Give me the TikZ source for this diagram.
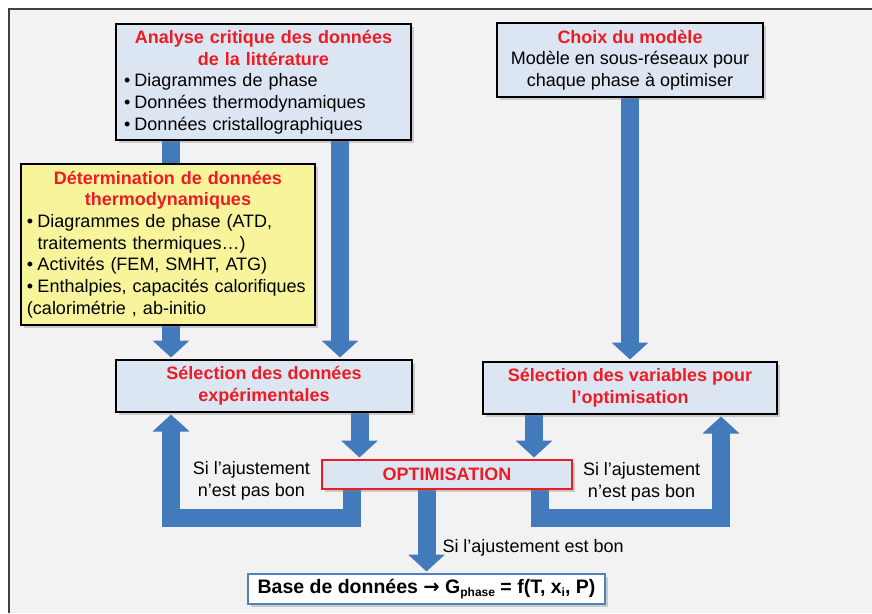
\documentclass[tikz,border=0pt]{standalone}
\usepackage{fontspec}
\setmainfont{Liberation Sans}
\newfontfamily\symbole{DejaVu Sans}
\usepackage{xcolor}
\usetikzlibrary{arrows.meta, positioning, shadows}

\definecolor{fond}{HTML}{F2F2F2}
\definecolor{bleuclair}{HTML}{DCE6F2}
\definecolor{jaune}{HTML}{F8F49C}
\definecolor{rouge}{HTML}{ED1C24}
\definecolor{bleufleche}{HTML}{427ABB}
\definecolor{bleubord}{HTML}{4F81BD}

\newcommand{\titre}[1]{{\centering\bfseries\color{rouge}#1\par}}
\newcommand{\puce}{\par\noindent\hangindent=10.5pt\hangafter=1\makebox[10.5pt][l]{•}}
\newcommand{\indice}[1]{\raisebox{-0.35ex}{\fontsize{12}{12}\selectfont #1}}

\pgfdeclarelayer{cadre}
\pgfdeclarelayer{fleches}
\pgfsetlayers{cadre,fleches,main}

\begin{document}
\begin{tikzpicture}[
            x=1pt, y=-1pt,
            boite/.style={
                draw=black, line width=2pt, fill=bleuclair, align=center,
                font=\fontsize{18}{21.7}\selectfont, inner xsep=8pt, inner ysep=3pt,
                drop shadow={shadow xshift=2.5pt, shadow yshift=-2.5pt, opacity=0.35}
            },
            boite_titre/.style={boite, font=\fontsize{18}{21.7}\selectfont\bfseries, text=rouge},
            fleche/.style={
                draw=bleufleche, line width=18pt,
                -{Triangle[width=36pt, length=17pt]}, shorten >=1.5pt
            },
            etiquette/.style={font=\fontsize{18}{21.7}\selectfont, align=center, inner sep=2pt, outer sep=0pt}
        ]
            \useasboundingbox (0,0) rectangle (872,613);

            % Cadre de la figure
            \begin{pgfonlayer}{cadre}
                \fill[fond] (9,9) rectangle (872,613);
                \draw[line width=2.5pt, black!75] (9,613) -- (9,9) -- (872,9);
            \end{pgfonlayer}

            % --- Sources de données ---
            \node[boite, minimum width=295pt, minimum height=116pt, text width=279pt, align=left] (analyse) at (263.5,82)
                {\titre{Analyse critique des données\\ de la littérature}%
                 \puce Diagrammes de phase
                 \puce Données thermodynamiques
                 \puce Données cristallographiques};

            \node[boite, minimum width=266pt, minimum height=74pt] (choix) at (630,60)
                {{\bfseries\color{rouge}Choix du modèle}\\ Modèle en sous-réseaux pour\\ chaque phase à optimiser};

            \node[boite, fill=jaune, minimum width=294pt, minimum height=161pt, text width=282pt, inner xsep=6pt, align=left] (determ) at (168,244.5)
                {\titre{Détermination de données\\ thermodynamiques}%
                 \puce Diagrammes de phase (ATD,\newline traitements thermiques…)
                 \puce Activités (FEM, SMHT, ATG)
                 \puce Enthalpies, capacités calorifiques\newline (calorimétrie , ab-initio};

            % --- Sélections ---
            \node[boite_titre, minimum width=296pt, minimum height=52pt] (sel_exp) at (264,386)
                {Sélection des données\\ expérimentales};
            \node[boite_titre, minimum width=294pt, minimum height=52pt] (sel_var) at (630,388)
                {Sélection des variables pour\\ l’optimisation};

            % --- Optimisation et résultat ---
            \node[boite_titre, draw=rouge, minimum width=250pt, minimum height=29pt, inner ysep=1pt, drop shadow={opacity=0}] (optim) at (447,474.5)
                {OPTIMISATION};
            \node[boite, draw=bleubord, fill=white, minimum width=357pt, minimum height=30pt, inner ysep=1pt,
                  font=\fontsize{19.5}{22}\selectfont\bfseries] (base) at (426.5,589)
                {Base de données {\symbole\bfseries →} G\indice{phase} = f(T, x\indice{i}, P)};

            \node[etiquette, left=9pt of optim, yshift=-6.5pt] (pas_bon_g) {Si l’ajustement\\ n’est pas bon};
            \node[etiquette, right=8pt of optim, yshift=-7pt] (pas_bon_d) {Si l’ajustement\\ n’est pas bon};

            % --- Flèches ---
            \begin{pgfonlayer}{fleches}
                \draw[fleche] ([xshift=-92.5pt]analyse.south) -- ([xshift=-93pt]sel_exp.north);
                \draw[fleche] ([xshift=76.5pt]analyse.south) -- ([xshift=76pt]sel_exp.north);
                \draw[fleche] (choix.south) -- (sel_var.north);
                \draw[fleche] ([xshift=95.5pt]sel_exp.south) -- ([xshift=-87.5pt]optim.north);
                \draw[fleche] ([xshift=-96pt]sel_var.south) -- ([xshift=87pt]optim.north);
                \draw[fleche] ([xshift=-20.5pt]optim.south) -- node[etiquette, pos=0.7, anchor=west, xshift=14pt] (bon) {Si l’ajustement est bon} (base.north);
                % boucles de retour
                \draw[fleche] ([xshift=-95pt]optim.south) -- ++(0,27.5) -| ([xshift=-93pt]sel_exp.south);
                \draw[fleche] ([xshift=93pt]optim.south) -- ++(0,27.5) -| ([xshift=91pt]sel_var.south);
            \end{pgfonlayer}

        \end{tikzpicture}
\end{document}
